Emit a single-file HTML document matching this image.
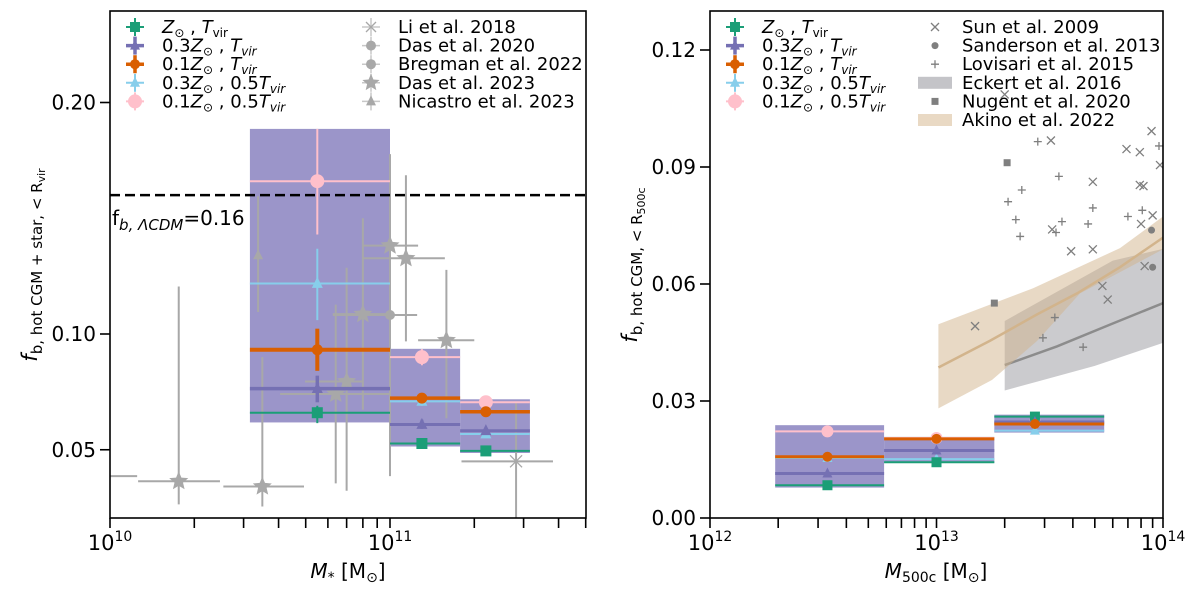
<!DOCTYPE html>
<html><head><meta charset="utf-8">
<style>
html,body{margin:0;padding:0;background:#fff;}
svg{display:block;font-family:"DejaVu Sans","Liberation Sans",sans-serif;}
</style></head>
<body>
<svg id="fig" width="1200" height="597" viewBox="0 0 1200 597" xmlns="http://www.w3.org/2000/svg">
<defs>
<clipPath id="clipL"><rect x="110" y="11" width="476" height="507"/></clipPath>
<clipPath id="clipR"><rect x="710" y="11" width="453" height="507"/></clipPath>
</defs>
<g id="left"></g>
<g id="right"></g>
</svg>
<script>
// ---------- LEFT PANEL DATA ----------
const simColors = ['#1b9e77','#7570b3','#d95f02','#87ceeb','#ffc0cb'];
const simLabels = ['Z_sun_Tvir','0.3Z_sun_Tvir','0.1Z_sun_Tvir','0.3Z_sun_0.5Tvir','0.1Z_sun_0.5Tvir'];
const leftBinEdges = [[3.16e10,1e11],[1e11,1.78e11],[1.78e11,3.16e11]];
const leftBinCenters = [5.5e10,1.3e11,2.2e11];
const leftBoxLo = [0.0618,0.0514,0.0486];
const leftBoxHi = [0.1886,0.0936,0.0718];
const leftVals = [[0.066,0.0527,0.0495],[0.0764,0.0609,0.0582],[0.0932,0.0723,0.0664],[0.1218,0.0709,0.0568],[0.166,0.090,0.0705]];
const leftErrLo = [[0.0615,0.052,0.049],[0.0705,0.059,0.057],[0.0841,0.071,0.065],[0.106,0.069,0.0555],[0.143,0.0865,0.069]];
const leftErrHi = [[0.069,0.054,0.050],[0.082,0.063,0.0595],[0.1023,0.0735,0.0675],[0.1368,0.0725,0.058],[0.1886,0.0935,0.072]];
const das23M = [1.76e10,3.5e10,1e11,1.14e11,1.59e11,8.0e10,6.4e10,7.0e10];
const das23F = [0.0364,0.0341,0.1382,0.1327,0.0973,0.1086,0.0741,0.0795];
const das23Xlo = [1.26e10,2.54e10,8.0e10,8.0e10,1.26e11,6.25e10,4.05e10,4.97e10];
const das23Xhi = [2.47e10,4.93e10,1.26e11,1.57e11,2.0e11,1e11,1e11,8.0e10];
const das23Ylo = [0.0264,0.0255,0.0386,0.0968,0.0636,0.0673,0.0355,0.0323];
const das23Yhi = [0.1205,0.090,0.1777,0.1686,0.1277,0.150,0.1127,0.1286];
const liM = [2.82e11,8e9];
const liF = [0.045,0.0386];
const liXlo = [1.8e11,5e9];
const liXhi = [3.82e11,1.25e10];
const liYlo = [0.015,0.0386];
const liYhi = [0.0705,0.0386];
const das20M = [1e11];
const das20F = [0.1082];
const das20Xlo = [6.25e10];
const das20Xhi = [1.25e11];
const nicM = [3.38e10];
const nicF = [0.134];
const nicYlo = [0.1095];
const nicYhi = [0.1595];
const fbCosmic = 0.16;
const leftYTicks = [0.05,0.10,0.20];
const leftYTickLabels = ['0.05','0.10','0.20'];

// ---------- RIGHT PANEL DATA ----------
const rightBinEdges = [[1.94e12,5.87e12],[5.87e12,1.8e13],[1.8e13,5.5e13]];
const rightBinCenters = [3.3e12,1e13,2.72e13];
const rightBoxLo = [0.0078,0.0141,0.0219];
const rightBoxHi = [0.0238,0.0208,0.0265];
const rightVals = [[0.0084,0.0143,0.026],[0.0114,0.0173,0.0246],[0.0157,0.0203,0.0241],[0.0154,0.0151,0.0224],[0.0222,0.0205,0.0245]];
const sunM = [2.0e13,3.2e13,6.9e13,7.9e13,8.9e13,9.7e13,4.9e13,7.9e13,8.2e13,9.0e13,8.0e13,3.24e13,3.93e13,4.9e13,8.3e13,5.4e13,5.7e13,1.48e13];
const sunF = [0.1086,0.0968,0.0946,0.0938,0.0992,0.0905,0.0862,0.0854,0.0851,0.0776,0.0754,0.074,0.0684,0.0689,0.0646,0.0595,0.056,0.0492];
const lovM = [2.8e13,3.47e13,2.38e13,2.07e13,4.9e13,8.1e13,7.0e13,2.24e13,3.58e13,4.67e13,2.34e13,3.37e13,9.6e13,3.33e13,2.95e13,4.44e13];
const lovF = [0.0965,0.0876,0.0841,0.0811,0.0795,0.0789,0.0773,0.0765,0.076,0.0754,0.0722,0.0732,0.0954,0.0514,0.0462,0.0438];
const sandM = [8.9e13,9.0e13];
const sandF = [0.0738,0.0643];
const nugM = [2.05e13,1.8e13];
const nugF = [0.0911,0.0551];
const akinoM = [1.02e13,1.72e13,2.78e13,4.17e13,6.46e13,1e14];
const akinoF = [0.0386,0.0454,0.0522,0.0576,0.0643,0.0719];
const akinoUpM = [1.02e13,2.67e13,6.46e13,1e14];
const akinoUpF = [0.0497,0.0589,0.0692,0.0773];
const akinoLoM = [1.02e13,1.76e13,2.78e13,4.3e13,1e14];
const akinoLoF = [0.0281,0.0354,0.0454,0.0576,0.0689];
const eckM = [2e13,3.4e13,5.8e13,1e14];
const eckF = [0.0392,0.044,0.0495,0.0551];
const eckUpM = [2e13,6e13,1e14];
const eckUpF = [0.0505,0.066,0.069];
const eckLoM = [2e13,5e13,1e14];
const eckLoF = [0.0327,0.039,0.0449];
const rightYTicks = [0,0.03,0.06,0.09,0.12];
const rightYTickLabels = ['0.00','0.03','0.06','0.09','0.12'];

// ---------- helpers ----------
const NS='http://www.w3.org/2000/svg';
function el(parent, tag, attrs, name, inter){
  const e=document.createElementNS(NS,tag);
  for(const k in attrs) e.setAttribute(k,attrs[k]);
  
  
  parent.appendChild(e); return e;
}
const lg=Math.log10;
const BOT=518;
const xL=m=>110+(lg(m)-10)*280, yL=f=>565.5-f*2315;
const xR=m=>710+(lg(m)-12)*226.5, yR=f=>518-f*3900;

function marker(g,type,x,y,color,s,name){
  if(type==='square') el(g,'rect',{x:x-s,y:y-s,width:2*s,height:2*s,fill:color},name);
  else if(type==='circle') el(g,'circle',{cx:x,cy:y,r:s,fill:color},name);
  else if(type==='tri') el(g,'polygon',{points:`${x},${y-s*1.2} ${x-s},${y+s*0.8} ${x+s},${y+s*0.8}`,fill:color},name);
  else if(type==='thinplus') el(g,'path',{d:`M${x-s},${y}H${x+s}M${x},${y-s}V${y+s}`,stroke:color,'stroke-width':1.3},name);
  else if(type==='x') el(g,'path',{d:`M${x-s},${y-s}L${x+s},${y+s}M${x-s},${y+s}L${x+s},${y-s}`,stroke:color,'stroke-width':1.3},name);
  else if(type==='star'){
    let p=[];for(let i=0;i<10;i++){const r=i%2?s*0.45:s;const a=-Math.PI/2+i*Math.PI/5;p.push((x+r*Math.cos(a)).toFixed(1)+','+(y+r*Math.sin(a)).toFixed(1));}
    el(g,'polygon',{points:p.join(' '),fill:color},name);
  }
}
function line(g,x1,y1,x2,y2,color,w,name,extra){
  const a={x1,y1,x2,y2,stroke:color,'stroke-width':w};
  if(extra) Object.assign(a,extra);
  return el(g,'line',a,name);
}
function text(g,x,y,str,size,name,anchor,extra){
  const a={x,y,'font-size':size,fill:'#000'};
  if(anchor) a['text-anchor']=anchor;
  if(extra) Object.assign(a,extra);
  const t=el(g,'text',a,name); t.innerHTML=str; return t;
}
function poly(xs,ys,X,Y){return xs.map((m,i)=>X(m).toFixed(1)+','+Y(ys[i]).toFixed(1));}

// ---------- LEFT PANEL ----------
const L=document.getElementById('left');
const Lp=el(L,'g',{'clip-path':'url(#clipL)'},'left-plot-area');
const leftW=[2,3.5,4,2,2];
const legMk=['square','tri','circle','tri','circle'];
leftBinEdges.forEach((e,i)=>{
  el(Lp,'rect',{x:xL(e[0]),y:yL(leftBoxHi[i]),width:xL(e[1])-xL(e[0]),height:yL(leftBoxLo[i])-yL(leftBoxHi[i]),fill:'#9b95c9'},'sim-envelope-bin-'+(i+1));
});
const gray='#a8a8a8';
das23M.forEach((m,i)=>{
  const g=el(Lp,'g',{},'das2023-point');
  line(g,xL(das23Xlo[i]),yL(das23F[i]),xL(das23Xhi[i]),yL(das23F[i]),gray,2,'das2023-xerr');
  line(g,xL(m),yL(das23Ylo[i]),xL(m),yL(das23Yhi[i]),gray,2,'das2023-yerr');
  marker(g,'star',xL(m),yL(das23F[i]),gray,10,'das2023-marker');
});
liM.forEach((m,i)=>{
  const g=el(Lp,'g',{},'li2018-point');
  line(g,xL(liXlo[i]),yL(liF[i]),xL(liXhi[i]),yL(liF[i]),gray,2,'li2018-xerr');
  line(g,xL(m),yL(liYlo[i]),xL(m),yL(liYhi[i]),gray,2,'li2018-yerr');
  marker(g,'x',xL(m),yL(liF[i]),gray,6,'li2018-marker');
});
das20M.forEach((m,i)=>{
  const g=el(Lp,'g',{},'das2020-point');
  line(g,xL(das20Xlo[i]),yL(das20F[i]),xL(das20Xhi[i]),yL(das20F[i]),gray,2,'das2020-xerr');
  marker(g,'circle',xL(m),yL(das20F[i]),gray,5,'das2020-marker');
});
nicM.forEach((m,i)=>{
  const g=el(Lp,'g',{},'nicastro2023-point');
  line(g,xL(m),yL(nicYlo[i]),xL(m),yL(nicYhi[i]),gray,2,'nicastro2023-yerr');
  marker(g,'tri',xL(m),yL(nicF[i]),gray,5,'nicastro2023-marker');
});
[4,3,0,1,2].forEach(s=>{
  const g=el(Lp,'g',{},'sim-series-'+simLabels[s]);
  leftBinCenters.forEach((c,i)=>{
    const w=i===0?leftW[s]:Math.max(2,leftW[s]-0.5);
    line(g,xL(leftBinEdges[i][0]),yL(leftVals[s][i]),xL(leftBinEdges[i][1]),yL(leftVals[s][i]),simColors[s],w,'sim-bin-line');
    line(g,xL(c),yL(leftErrLo[s][i]),xL(c),yL(leftErrHi[s][i]),simColors[s],w,'sim-yerr');
    marker(g,legMk[s],xL(c),yL(leftVals[s][i]),simColors[s],s===4?7:5.5,'sim-marker');
  });
});
line(Lp,110,yL(fbCosmic),586,yL(fbCosmic),'#000',2.5,'cosmic-baryon-fraction-line',{'stroke-dasharray':'10,5'});
text(L,112,225,'f<tspan font-size="15" font-style="italic" dy="5">b, ΛCDM</tspan><tspan dy="-5">=0.16</tspan>',20,'cosmic-baryon-label');
el(L,'rect',{x:110,y:11,width:476,height:BOT-11,fill:'none',stroke:'#000','stroke-width':1.6},'left-plot-frame');
leftYTicks.forEach((v,i)=>{
  line(L,100,yL(v),110,yL(v),'#000',1.6,'left-y-tick');
  text(L,96,yL(v)+7,leftYTickLabels[i],20,'left-y-tick-label','end');
});
for(let d=10;d<=11;d++)for(let k=1;k<=9;k++){
  const m=k*Math.pow(10,d); const x=xL(m); if(x>587) continue;
  line(L,x,BOT,x,BOT+10,'#000',1.6,k===1?'left-x-major-tick':'left-x-minor-tick');
  if(k===1) text(L,x,550,'10<tspan font-size="14" dy="-9">'+d+'</tspan>',21,'left-x-tick-label','middle');
}
text(L,348,578,'<tspan font-style="italic">M</tspan><tspan font-size="14" dy="4">*</tspan><tspan dy="-4"> [M</tspan><tspan font-size="14" dy="4">⊙</tspan><tspan dy="-4">]</tspan>',20,'left-x-axis-title','middle');
text(L,0,0,'<tspan font-style="italic">f</tspan><tspan font-size="15" dy="5">b, hot CGM + star, &lt; R</tspan><tspan font-size="11" dy="3">vir</tspan>',21,'left-y-axis-title','middle',{transform:'translate(37,265) rotate(-90)'});
const legLab=['<tspan font-style="italic">Z</tspan><tspan font-size="12" dy="4">⊙</tspan><tspan dy="-4"> , </tspan><tspan font-style="italic">T</tspan><tspan font-size="12" dy="4">vir</tspan>',
'0.3<tspan font-style="italic">Z</tspan><tspan font-size="12" dy="4">⊙</tspan><tspan dy="-4"> , </tspan><tspan font-style="italic">T</tspan><tspan font-size="12" font-style="italic" dy="4">vir</tspan>',
'0.1<tspan font-style="italic">Z</tspan><tspan font-size="12" dy="4">⊙</tspan><tspan dy="-4"> , </tspan><tspan font-style="italic">T</tspan><tspan font-size="12" font-style="italic" dy="4">vir</tspan>',
'0.3<tspan font-style="italic">Z</tspan><tspan font-size="12" dy="4">⊙</tspan><tspan dy="-4"> , 0.5</tspan><tspan font-style="italic">T</tspan><tspan font-size="12" font-style="italic" dy="4">vir</tspan>',
'0.1<tspan font-style="italic">Z</tspan><tspan font-size="12" dy="4">⊙</tspan><tspan dy="-4"> , 0.5</tspan><tspan font-style="italic">T</tspan><tspan font-size="12" font-style="italic" dy="4">vir</tspan>'];
const ROW0=27, ROWH=18.6;
function simLegend(P,x0,tx){
  legLab.forEach((l,i)=>{
    const y=ROW0+i*ROWH;
    const g=el(P,'g',{},'legend-entry-'+simLabels[i],true);
    line(g,x0-9,y,x0+9,y,simColors[i],i===1||i===2?3.5:2,'legend-line');
    line(g,x0,y-9,x0,y+9,simColors[i],i===1||i===2?3.5:2,'legend-line');
    marker(g,legMk[i],x0,y,simColors[i],i===4?7:5,'legend-marker');
    text(g,tx,y+6,l,18,'legend-label');
  });
}
simLegend(L,135,162);
const obsL=[['Li et al. 2018','x'],['Das et al. 2020','circle'],['Bregman et al. 2022','circle'],['Das et al. 2023','star'],['Nicastro et al. 2023','tri']];
obsL.forEach((o,i)=>{
  const y=ROW0+i*ROWH;
  const g=el(L,'g',{},'legend-entry-obs',true);
  line(g,362,y,380,y,'#c8c8c8',1.5,'legend-line');
  line(g,371,y-9,371,y+9,'#c8c8c8',1.5,'legend-line');
  marker(g,o[1],371,y,'#a8a8a8',o[1]==='star'?9:5,'legend-marker');
  text(g,398,y+6,o[0],18,'legend-label');
});

// ---------- RIGHT PANEL ----------
const R=document.getElementById('right');
const Rp=el(R,'g',{'clip-path':'url(#clipR)'},'right-plot-area');
el(Rp,'polygon',{points:poly(eckUpM,eckUpF,xR,yR).concat(poly(eckLoM,eckLoF,xR,yR).reverse()).join(' '),fill:'#a0a0a5','fill-opacity':0.55},'eckert2016-band');
el(Rp,'polyline',{points:poly(eckM,eckF,xR,yR).join(' '),fill:'none',stroke:'#8c8c8c','stroke-width':2.5},'eckert2016-line');
el(Rp,'polygon',{points:poly(akinoUpM,akinoUpF,xR,yR).concat(poly(akinoLoM,akinoLoF,xR,yR).reverse()).join(' '),fill:'#d2b48c','fill-opacity':0.5},'akino2022-band');
el(Rp,'polyline',{points:poly(akinoM,akinoF,xR,yR).join(' '),fill:'none',stroke:'#d2b48c','stroke-width':2.5},'akino2022-line');
const dg='#7f7f7f';
sunM.forEach((m,i)=>marker(Rp,'x',xR(m),yR(sunF[i]),dg,4,'sun2009-marker'));
lovM.forEach((m,i)=>marker(Rp,'thinplus',xR(m),yR(lovF[i]),dg,4,'lovisari2015-marker'));
sandM.forEach((m,i)=>marker(Rp,'circle',xR(m),yR(sandF[i]),dg,3.5,'sanderson2013-marker'));
nugM.forEach((m,i)=>marker(Rp,'square',xR(m),yR(nugF[i]),dg,3.5,'nugent2020-marker'));
rightBinEdges.forEach((e,i)=>{
  el(Rp,'rect',{x:xR(e[0]),y:yR(rightBoxHi[i]),width:xR(e[1])-xR(e[0]),height:yR(rightBoxLo[i])-yR(rightBoxHi[i]),fill:'#9b95c9'},'sim-envelope-bin-'+(i+1));
});
[4,3,0,1,2].forEach(s=>{
  const g=el(Rp,'g',{},'sim-series-'+simLabels[s]);
  rightBinCenters.forEach((c,i)=>{
    line(g,xR(rightBinEdges[i][0]),yR(rightVals[s][i]),xR(rightBinEdges[i][1]),yR(rightVals[s][i]),simColors[s],s===1||s===2?3:2,'sim-bin-line');
    marker(g,legMk[s],xR(c),yR(rightVals[s][i]),simColors[s],s===4?6:5,'sim-marker');
  });
});
el(R,'rect',{x:710,y:11,width:453,height:BOT-11,fill:'none',stroke:'#000','stroke-width':1.6},'right-plot-frame');
rightYTicks.forEach((v,i)=>{
  line(R,700,yR(v),710,yR(v),'#000',1.6,'right-y-tick');
  text(R,696,yR(v)+7,rightYTickLabels[i],20,'right-y-tick-label','end');
});
for(let d=12;d<=14;d++)for(let k=1;k<=9;k++){
  if(d===14&&k>1) continue;
  const x=xR(k*Math.pow(10,d));
  line(R,x,BOT,x,BOT+10,'#000',1.6,k===1?'right-x-major-tick':'right-x-minor-tick');
  if(k===1) text(R,x,550,'10<tspan font-size="14" dy="-9">'+d+'</tspan>',21,'right-x-tick-label','middle');
}
text(R,936,578,'<tspan font-style="italic">M</tspan><tspan font-size="14" dy="4">500c</tspan><tspan dy="-4"> [M</tspan><tspan font-size="14" dy="4">⊙</tspan><tspan dy="-4">]</tspan>',20,'right-x-axis-title','middle');
text(R,0,0,'<tspan font-style="italic">f</tspan><tspan font-size="15" dy="5">b, hot CGM, &lt; R</tspan><tspan font-size="11" dy="3">500c</tspan>',21,'right-y-axis-title','middle',{transform:'translate(637,265) rotate(-90)'});
simLegend(R,735,762);
const obsR=[['Sun et al. 2009','x'],['Sanderson et al. 2013','circle'],['Lovisari et al. 2015','thinplus'],['Eckert et al. 2016','band1'],['Nugent et al. 2020','square'],['Akino et al. 2022','band2']];
obsR.forEach((o,i)=>{
  const y=ROW0+i*ROWH;
  const g=el(R,'g',{},'legend-entry-obs',true);
  if(o[1]==='band1') el(g,'rect',{x:918,y:y-6,width:34,height:12,fill:'#c4c4c8'},'legend-swatch');
  else if(o[1]==='band2') el(g,'rect',{x:918,y:y-6,width:34,height:12,fill:'#e9d9c4'},'legend-swatch');
  else marker(g,o[1],935,y,dg,o[1]==='x'||o[1]==='thinplus'?4:3.5,'legend-marker');
  text(g,962,y+6,o[0],18,'legend-label');
});
</script>
</body></html>
